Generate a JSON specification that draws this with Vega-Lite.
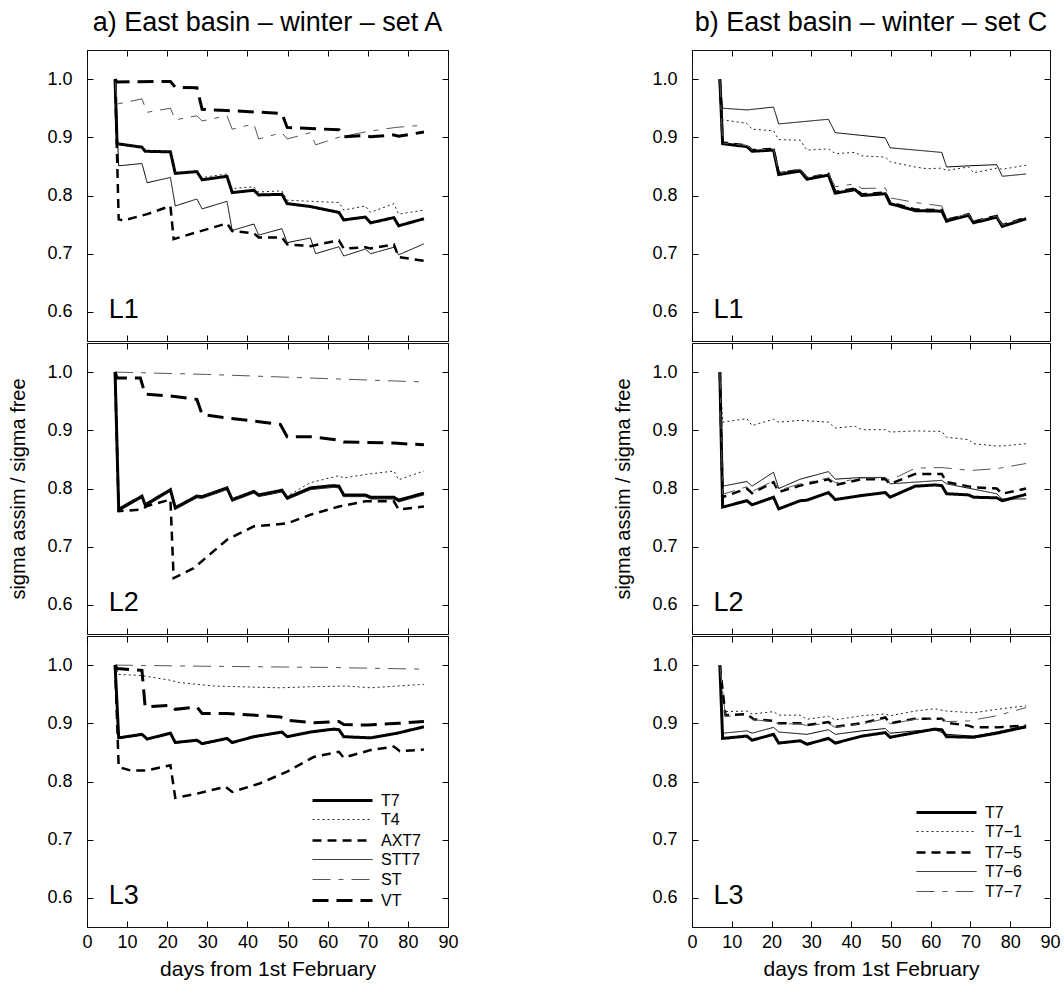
{
"$schema": "https://vega.github.io/schema/vega-lite/v6.json",
"padding": {"left": 8, "top": 8, "right": 5, "bottom": 5},
"background": "white",
"data": {"values": [
{"p":"a1","s":"T7","x":7,"y":1},{"p":"a1","s":"T7","x":7.5,"y":0.889},{"p":"a1","s":"T7","x":13.7,"y":0.883},{"p":"a1","s":"T7","x":14.5,"y":0.876},{"p":"a1","s":"T7","x":20.8,"y":0.875},{"p":"a1","s":"T7","x":22,"y":0.838},{"p":"a1","s":"T7","x":27.4,"y":0.841},{"p":"a1","s":"T7","x":28.7,"y":0.827},{"p":"a1","s":"T7","x":34.9,"y":0.833},{"p":"a1","s":"T7","x":36.2,"y":0.805},{"p":"a1","s":"T7","x":41.6,"y":0.809},{"p":"a1","s":"T7","x":42.8,"y":0.801},{"p":"a1","s":"T7","x":48.6,"y":0.802},{"p":"a1","s":"T7","x":49.9,"y":0.786},{"p":"a1","s":"T7","x":55.7,"y":0.781},{"p":"a1","s":"T7","x":62.8,"y":0.771},{"p":"a1","s":"T7","x":64,"y":0.758},{"p":"a1","s":"T7","x":69.4,"y":0.763},{"p":"a1","s":"T7","x":70.7,"y":0.753},{"p":"a1","s":"T7","x":76.5,"y":0.762},{"p":"a1","s":"T7","x":77.7,"y":0.748},{"p":"a1","s":"T7","x":84,"y":0.76},
{"p":"a1","s":"T4","x":7,"y":1},{"p":"a1","s":"T4","x":7.5,"y":0.89},{"p":"a1","s":"T4","x":13.7,"y":0.884},{"p":"a1","s":"T4","x":14.5,"y":0.877},{"p":"a1","s":"T4","x":20.8,"y":0.876},{"p":"a1","s":"T4","x":22,"y":0.839},{"p":"a1","s":"T4","x":27.4,"y":0.843},{"p":"a1","s":"T4","x":28.7,"y":0.831},{"p":"a1","s":"T4","x":34.9,"y":0.837},{"p":"a1","s":"T4","x":36.2,"y":0.812},{"p":"a1","s":"T4","x":41.6,"y":0.815},{"p":"a1","s":"T4","x":42.8,"y":0.806},{"p":"a1","s":"T4","x":48.6,"y":0.808},{"p":"a1","s":"T4","x":49.9,"y":0.792},{"p":"a1","s":"T4","x":55.7,"y":0.79},{"p":"a1","s":"T4","x":62.8,"y":0.788},{"p":"a1","s":"T4","x":64,"y":0.775},{"p":"a1","s":"T4","x":69.4,"y":0.782},{"p":"a1","s":"T4","x":70.7,"y":0.771},{"p":"a1","s":"T4","x":76.5,"y":0.786},{"p":"a1","s":"T4","x":77.7,"y":0.768},{"p":"a1","s":"T4","x":84,"y":0.775},
{"p":"a1","s":"AXT7","x":7,"y":1},{"p":"a1","s":"AXT7","x":7.9,"y":0.759},{"p":"a1","s":"AXT7","x":9,"y":0.757},{"p":"a1","s":"AXT7","x":15,"y":0.768},{"p":"a1","s":"AXT7","x":20.8,"y":0.782},{"p":"a1","s":"AXT7","x":21.6,"y":0.725},{"p":"a1","s":"AXT7","x":27.4,"y":0.737},{"p":"a1","s":"AXT7","x":34.9,"y":0.752},{"p":"a1","s":"AXT7","x":36.2,"y":0.739},{"p":"a1","s":"AXT7","x":41.6,"y":0.735},{"p":"a1","s":"AXT7","x":42.8,"y":0.728},{"p":"a1","s":"AXT7","x":48.6,"y":0.728},{"p":"a1","s":"AXT7","x":49.9,"y":0.716},{"p":"a1","s":"AXT7","x":55.7,"y":0.713},{"p":"a1","s":"AXT7","x":62.8,"y":0.723},{"p":"a1","s":"AXT7","x":64,"y":0.709},{"p":"a1","s":"AXT7","x":69.4,"y":0.711},{"p":"a1","s":"AXT7","x":70.7,"y":0.709},{"p":"a1","s":"AXT7","x":76.5,"y":0.716},{"p":"a1","s":"AXT7","x":77.7,"y":0.694},{"p":"a1","s":"AXT7","x":84,"y":0.688},
{"p":"a1","s":"STT7","x":7,"y":1},{"p":"a1","s":"STT7","x":7.9,"y":0.851},{"p":"a1","s":"STT7","x":13.7,"y":0.855},{"p":"a1","s":"STT7","x":15,"y":0.822},{"p":"a1","s":"STT7","x":20.8,"y":0.831},{"p":"a1","s":"STT7","x":22,"y":0.782},{"p":"a1","s":"STT7","x":27.4,"y":0.794},{"p":"a1","s":"STT7","x":28.7,"y":0.777},{"p":"a1","s":"STT7","x":34.9,"y":0.79},{"p":"a1","s":"STT7","x":36.2,"y":0.74},{"p":"a1","s":"STT7","x":41.6,"y":0.751},{"p":"a1","s":"STT7","x":42.8,"y":0.732},{"p":"a1","s":"STT7","x":48.6,"y":0.743},{"p":"a1","s":"STT7","x":49.9,"y":0.719},{"p":"a1","s":"STT7","x":55.7,"y":0.727},{"p":"a1","s":"STT7","x":57,"y":0.7},{"p":"a1","s":"STT7","x":62.8,"y":0.712},{"p":"a1","s":"STT7","x":64,"y":0.696},{"p":"a1","s":"STT7","x":69.4,"y":0.708},{"p":"a1","s":"STT7","x":70.7,"y":0.7},{"p":"a1","s":"STT7","x":76.5,"y":0.711},{"p":"a1","s":"STT7","x":77.7,"y":0.698},{"p":"a1","s":"STT7","x":84,"y":0.717},
{"p":"a1","s":"ST","x":7,"y":1},{"p":"a1","s":"ST","x":7.5,"y":0.957},{"p":"a1","s":"ST","x":13.7,"y":0.966},{"p":"a1","s":"ST","x":15,"y":0.943},{"p":"a1","s":"ST","x":20.8,"y":0.95},{"p":"a1","s":"ST","x":22,"y":0.93},{"p":"a1","s":"ST","x":27.4,"y":0.937},{"p":"a1","s":"ST","x":28.7,"y":0.928},{"p":"a1","s":"ST","x":34.9,"y":0.937},{"p":"a1","s":"ST","x":36.2,"y":0.914},{"p":"a1","s":"ST","x":41.6,"y":0.923},{"p":"a1","s":"ST","x":42.8,"y":0.897},{"p":"a1","s":"ST","x":48.6,"y":0.908},{"p":"a1","s":"ST","x":49.9,"y":0.897},{"p":"a1","s":"ST","x":55.7,"y":0.908},{"p":"a1","s":"ST","x":57,"y":0.887},{"p":"a1","s":"ST","x":62.8,"y":0.9},{"p":"a1","s":"ST","x":70,"y":0.91},{"p":"a1","s":"ST","x":77,"y":0.917},{"p":"a1","s":"ST","x":84,"y":0.921},
{"p":"a1","s":"VT","x":7,"y":1},{"p":"a1","s":"VT","x":7.5,"y":0.995},{"p":"a1","s":"VT","x":20.8,"y":0.996},{"p":"a1","s":"VT","x":22,"y":0.986},{"p":"a1","s":"VT","x":27.4,"y":0.985},{"p":"a1","s":"VT","x":28.7,"y":0.948},{"p":"a1","s":"VT","x":34.9,"y":0.946},{"p":"a1","s":"VT","x":48.6,"y":0.941},{"p":"a1","s":"VT","x":49.9,"y":0.917},{"p":"a1","s":"VT","x":55.7,"y":0.915},{"p":"a1","s":"VT","x":62.8,"y":0.913},{"p":"a1","s":"VT","x":64,"y":0.901},{"p":"a1","s":"VT","x":69.4,"y":0.903},{"p":"a1","s":"VT","x":70.7,"y":0.901},{"p":"a1","s":"VT","x":76.5,"y":0.904},{"p":"a1","s":"VT","x":77.7,"y":0.902},{"p":"a1","s":"VT","x":84,"y":0.909},

{"p":"a2","s":"T7","x":7,"y":1},{"p":"a2","s":"T7","x":7.9,"y":0.764},{"p":"a2","s":"T7","x":13.7,"y":0.787},{"p":"a2","s":"T7","x":14.5,"y":0.772},{"p":"a2","s":"T7","x":20.8,"y":0.798},{"p":"a2","s":"T7","x":22,"y":0.767},{"p":"a2","s":"T7","x":27.4,"y":0.787},{"p":"a2","s":"T7","x":28.7,"y":0.786},{"p":"a2","s":"T7","x":34.9,"y":0.801},{"p":"a2","s":"T7","x":36.2,"y":0.781},{"p":"a2","s":"T7","x":41.6,"y":0.795},{"p":"a2","s":"T7","x":42.8,"y":0.789},{"p":"a2","s":"T7","x":48.6,"y":0.797},{"p":"a2","s":"T7","x":49.9,"y":0.784},{"p":"a2","s":"T7","x":55.7,"y":0.801},{"p":"a2","s":"T7","x":61.5,"y":0.805},{"p":"a2","s":"T7","x":62.8,"y":0.804},{"p":"a2","s":"T7","x":64,"y":0.789},{"p":"a2","s":"T7","x":69.4,"y":0.789},{"p":"a2","s":"T7","x":70.7,"y":0.785},{"p":"a2","s":"T7","x":76.5,"y":0.785},{"p":"a2","s":"T7","x":77.7,"y":0.78},{"p":"a2","s":"T7","x":84,"y":0.792},
{"p":"a2","s":"T4","x":7,"y":1},{"p":"a2","s":"T4","x":7.9,"y":0.765},{"p":"a2","s":"T4","x":13.7,"y":0.788},{"p":"a2","s":"T4","x":14.5,"y":0.773},{"p":"a2","s":"T4","x":20.8,"y":0.799},{"p":"a2","s":"T4","x":22,"y":0.768},{"p":"a2","s":"T4","x":27.4,"y":0.788},{"p":"a2","s":"T4","x":28.7,"y":0.787},{"p":"a2","s":"T4","x":34.9,"y":0.802},{"p":"a2","s":"T4","x":36.2,"y":0.782},{"p":"a2","s":"T4","x":41.6,"y":0.796},{"p":"a2","s":"T4","x":42.8,"y":0.79},{"p":"a2","s":"T4","x":48.6,"y":0.799},{"p":"a2","s":"T4","x":49.9,"y":0.787},{"p":"a2","s":"T4","x":55.7,"y":0.81},{"p":"a2","s":"T4","x":62.8,"y":0.822},{"p":"a2","s":"T4","x":64,"y":0.818},{"p":"a2","s":"T4","x":69.4,"y":0.824},{"p":"a2","s":"T4","x":76.5,"y":0.83},{"p":"a2","s":"T4","x":77.7,"y":0.815},{"p":"a2","s":"T4","x":84,"y":0.83},
{"p":"a2","s":"AXT7","x":7,"y":1},{"p":"a2","s":"AXT7","x":7.9,"y":0.761},{"p":"a2","s":"AXT7","x":13.7,"y":0.764},{"p":"a2","s":"AXT7","x":15,"y":0.77},{"p":"a2","s":"AXT7","x":20.8,"y":0.781},{"p":"a2","s":"AXT7","x":21.6,"y":0.646},{"p":"a2","s":"AXT7","x":26.6,"y":0.663},{"p":"a2","s":"AXT7","x":34.9,"y":0.712},{"p":"a2","s":"AXT7","x":41.6,"y":0.735},{"p":"a2","s":"AXT7","x":49.9,"y":0.74},{"p":"a2","s":"AXT7","x":55.7,"y":0.755},{"p":"a2","s":"AXT7","x":62.8,"y":0.769},{"p":"a2","s":"AXT7","x":69.4,"y":0.778},{"p":"a2","s":"AXT7","x":76.5,"y":0.778},{"p":"a2","s":"AXT7","x":77.7,"y":0.764},{"p":"a2","s":"AXT7","x":84,"y":0.769},
{"p":"a2","s":"STT7","x":7,"y":1},{"p":"a2","s":"STT7","x":7.9,"y":0.761},{"p":"a2","s":"STT7","x":13.7,"y":0.784},{"p":"a2","s":"STT7","x":14.5,"y":0.769},{"p":"a2","s":"STT7","x":20.8,"y":0.795},{"p":"a2","s":"STT7","x":22,"y":0.764},{"p":"a2","s":"STT7","x":27.4,"y":0.784},{"p":"a2","s":"STT7","x":28.7,"y":0.783},{"p":"a2","s":"STT7","x":34.9,"y":0.798},{"p":"a2","s":"STT7","x":36.2,"y":0.778},{"p":"a2","s":"STT7","x":41.6,"y":0.792},{"p":"a2","s":"STT7","x":42.8,"y":0.786},{"p":"a2","s":"STT7","x":48.6,"y":0.794},{"p":"a2","s":"STT7","x":49.9,"y":0.781},{"p":"a2","s":"STT7","x":55.7,"y":0.798},{"p":"a2","s":"STT7","x":61.5,"y":0.802},{"p":"a2","s":"STT7","x":62.8,"y":0.801},{"p":"a2","s":"STT7","x":64,"y":0.786},{"p":"a2","s":"STT7","x":69.4,"y":0.786},{"p":"a2","s":"STT7","x":70.7,"y":0.782},{"p":"a2","s":"STT7","x":76.5,"y":0.782},{"p":"a2","s":"STT7","x":77.7,"y":0.777},{"p":"a2","s":"STT7","x":84,"y":0.789},
{"p":"a2","s":"ST","x":7,"y":1},{"p":"a2","s":"ST","x":30,"y":0.996},{"p":"a2","s":"ST","x":55,"y":0.99},{"p":"a2","s":"ST","x":84,"y":0.983},
{"p":"a2","s":"VT","x":7,"y":1},{"p":"a2","s":"VT","x":7.5,"y":0.99},{"p":"a2","s":"VT","x":13.3,"y":0.99},{"p":"a2","s":"VT","x":14.5,"y":0.962},{"p":"a2","s":"VT","x":20.8,"y":0.959},{"p":"a2","s":"VT","x":27.4,"y":0.953},{"p":"a2","s":"VT","x":28.7,"y":0.927},{"p":"a2","s":"VT","x":34.9,"y":0.921},{"p":"a2","s":"VT","x":41.6,"y":0.916},{"p":"a2","s":"VT","x":48.2,"y":0.91},{"p":"a2","s":"VT","x":49.9,"y":0.889},{"p":"a2","s":"VT","x":55.7,"y":0.889},{"p":"a2","s":"VT","x":62.8,"y":0.883},{"p":"a2","s":"VT","x":64,"y":0.88},{"p":"a2","s":"VT","x":76.5,"y":0.878},{"p":"a2","s":"VT","x":84,"y":0.875},

{"p":"a3","s":"T7","x":7,"y":1},{"p":"a3","s":"T7","x":7.9,"y":0.875},{"p":"a3","s":"T7","x":13.7,"y":0.881},{"p":"a3","s":"T7","x":15,"y":0.873},{"p":"a3","s":"T7","x":20.8,"y":0.883},{"p":"a3","s":"T7","x":22,"y":0.867},{"p":"a3","s":"T7","x":27.4,"y":0.871},{"p":"a3","s":"T7","x":28.7,"y":0.865},{"p":"a3","s":"T7","x":34.9,"y":0.874},{"p":"a3","s":"T7","x":36.2,"y":0.867},{"p":"a3","s":"T7","x":41.6,"y":0.877},{"p":"a3","s":"T7","x":48.6,"y":0.885},{"p":"a3","s":"T7","x":49.9,"y":0.877},{"p":"a3","s":"T7","x":55.7,"y":0.885},{"p":"a3","s":"T7","x":61.5,"y":0.89},{"p":"a3","s":"T7","x":62.8,"y":0.889},{"p":"a3","s":"T7","x":64,"y":0.877},{"p":"a3","s":"T7","x":70.7,"y":0.875},{"p":"a3","s":"T7","x":77.3,"y":0.883},{"p":"a3","s":"T7","x":84,"y":0.894},
{"p":"a3","s":"T4","x":7,"y":1},{"p":"a3","s":"T4","x":7.9,"y":0.984},{"p":"a3","s":"T4","x":13.7,"y":0.982},{"p":"a3","s":"T4","x":20.8,"y":0.974},{"p":"a3","s":"T4","x":23,"y":0.97},{"p":"a3","s":"T4","x":31.6,"y":0.964},{"p":"a3","s":"T4","x":48,"y":0.961},{"p":"a3","s":"T4","x":56.5,"y":0.963},{"p":"a3","s":"T4","x":64.8,"y":0.964},{"p":"a3","s":"T4","x":70.7,"y":0.961},{"p":"a3","s":"T4","x":84,"y":0.967},
{"p":"a3","s":"AXT7","x":7,"y":1},{"p":"a3","s":"AXT7","x":7.9,"y":0.825},{"p":"a3","s":"AXT7","x":10.8,"y":0.819},{"p":"a3","s":"AXT7","x":15,"y":0.819},{"p":"a3","s":"AXT7","x":20.8,"y":0.828},{"p":"a3","s":"AXT7","x":22,"y":0.772},{"p":"a3","s":"AXT7","x":27.4,"y":0.779},{"p":"a3","s":"AXT7","x":34.5,"y":0.791},{"p":"a3","s":"AXT7","x":36.2,"y":0.782},{"p":"a3","s":"AXT7","x":43.2,"y":0.797},{"p":"a3","s":"AXT7","x":49.9,"y":0.817},{"p":"a3","s":"AXT7","x":56.5,"y":0.842},{"p":"a3","s":"AXT7","x":62.8,"y":0.851},{"p":"a3","s":"AXT7","x":64,"y":0.841},{"p":"a3","s":"AXT7","x":70.7,"y":0.854},{"p":"a3","s":"AXT7","x":76.5,"y":0.86},{"p":"a3","s":"AXT7","x":78,"y":0.852},{"p":"a3","s":"AXT7","x":84,"y":0.855},
{"p":"a3","s":"STT7","x":7,"y":1},{"p":"a3","s":"STT7","x":7.9,"y":0.874},{"p":"a3","s":"STT7","x":13.7,"y":0.88},{"p":"a3","s":"STT7","x":15,"y":0.872},{"p":"a3","s":"STT7","x":20.8,"y":0.882},{"p":"a3","s":"STT7","x":22,"y":0.866},{"p":"a3","s":"STT7","x":27.4,"y":0.87},{"p":"a3","s":"STT7","x":28.7,"y":0.864},{"p":"a3","s":"STT7","x":34.9,"y":0.873},{"p":"a3","s":"STT7","x":36.2,"y":0.866},{"p":"a3","s":"STT7","x":41.6,"y":0.876},{"p":"a3","s":"STT7","x":48.6,"y":0.884},{"p":"a3","s":"STT7","x":49.9,"y":0.876},{"p":"a3","s":"STT7","x":55.7,"y":0.884},{"p":"a3","s":"STT7","x":61.5,"y":0.889},{"p":"a3","s":"STT7","x":62.8,"y":0.888},{"p":"a3","s":"STT7","x":64,"y":0.876},{"p":"a3","s":"STT7","x":70.7,"y":0.874},{"p":"a3","s":"STT7","x":77.3,"y":0.882},{"p":"a3","s":"STT7","x":84,"y":0.893},
{"p":"a3","s":"ST","x":7,"y":1},{"p":"a3","s":"ST","x":30,"y":0.998},{"p":"a3","s":"ST","x":60,"y":0.996},{"p":"a3","s":"ST","x":84,"y":0.993},
{"p":"a3","s":"VT","x":7,"y":1},{"p":"a3","s":"VT","x":7.5,"y":0.994},{"p":"a3","s":"VT","x":13.7,"y":0.991},{"p":"a3","s":"VT","x":14.5,"y":0.928},{"p":"a3","s":"VT","x":20.8,"y":0.931},{"p":"a3","s":"VT","x":22,"y":0.924},{"p":"a3","s":"VT","x":27.4,"y":0.928},{"p":"a3","s":"VT","x":28.7,"y":0.917},{"p":"a3","s":"VT","x":34.9,"y":0.917},{"p":"a3","s":"VT","x":48.2,"y":0.911},{"p":"a3","s":"VT","x":49.9,"y":0.905},{"p":"a3","s":"VT","x":56.5,"y":0.901},{"p":"a3","s":"VT","x":62.8,"y":0.903},{"p":"a3","s":"VT","x":64,"y":0.898},{"p":"a3","s":"VT","x":70,"y":0.897},{"p":"a3","s":"VT","x":77.7,"y":0.9},{"p":"a3","s":"VT","x":84,"y":0.903},

{"p":"b1","s":"T7","x":7,"y":1},{"p":"b1","s":"T7","x":7.7,"y":0.889},{"p":"b1","s":"T7","x":13.8,"y":0.884},{"p":"b1","s":"T7","x":15.1,"y":0.876},{"p":"b1","s":"T7","x":20.5,"y":0.878},{"p":"b1","s":"T7","x":21.8,"y":0.836},{"p":"b1","s":"T7","x":27.2,"y":0.842},{"p":"b1","s":"T7","x":28.9,"y":0.828},{"p":"b1","s":"T7","x":34.3,"y":0.835},{"p":"b1","s":"T7","x":36,"y":0.804},{"p":"b1","s":"T7","x":41,"y":0.81},{"p":"b1","s":"T7","x":42.7,"y":0.8},{"p":"b1","s":"T7","x":48.6,"y":0.803},{"p":"b1","s":"T7","x":49.8,"y":0.786},{"p":"b1","s":"T7","x":56.1,"y":0.774},{"p":"b1","s":"T7","x":62.8,"y":0.773},{"p":"b1","s":"T7","x":64,"y":0.756},{"p":"b1","s":"T7","x":69.5,"y":0.766},{"p":"b1","s":"T7","x":70.8,"y":0.753},{"p":"b1","s":"T7","x":76.6,"y":0.763},{"p":"b1","s":"T7","x":78,"y":0.747},{"p":"b1","s":"T7","x":84,"y":0.76},
{"p":"b1","s":"T7−1","x":7,"y":1},{"p":"b1","s":"T7−1","x":7.7,"y":0.93},{"p":"b1","s":"T7−1","x":13.8,"y":0.924},{"p":"b1","s":"T7−1","x":15.1,"y":0.914},{"p":"b1","s":"T7−1","x":20.5,"y":0.911},{"p":"b1","s":"T7−1","x":21.8,"y":0.896},{"p":"b1","s":"T7−1","x":27.2,"y":0.895},{"p":"b1","s":"T7−1","x":28.9,"y":0.878},{"p":"b1","s":"T7−1","x":34.3,"y":0.88},{"p":"b1","s":"T7−1","x":36,"y":0.872},{"p":"b1","s":"T7−1","x":41,"y":0.874},{"p":"b1","s":"T7−1","x":42.7,"y":0.868},{"p":"b1","s":"T7−1","x":48.6,"y":0.866},{"p":"b1","s":"T7−1","x":49.8,"y":0.858},{"p":"b1","s":"T7−1","x":56.1,"y":0.849},{"p":"b1","s":"T7−1","x":59,"y":0.846},{"p":"b1","s":"T7−1","x":62.8,"y":0.847},{"p":"b1","s":"T7−1","x":64,"y":0.843},{"p":"b1","s":"T7−1","x":69.5,"y":0.849},{"p":"b1","s":"T7−1","x":70.8,"y":0.839},{"p":"b1","s":"T7−1","x":76.6,"y":0.847},{"p":"b1","s":"T7−1","x":78,"y":0.845},{"p":"b1","s":"T7−1","x":84,"y":0.852},
{"p":"b1","s":"T7−5","x":7,"y":1},{"p":"b1","s":"T7−5","x":7.7,"y":0.891},{"p":"b1","s":"T7−5","x":13.8,"y":0.886},{"p":"b1","s":"T7−5","x":15.1,"y":0.878},{"p":"b1","s":"T7−5","x":20.5,"y":0.88},{"p":"b1","s":"T7−5","x":21.8,"y":0.838},{"p":"b1","s":"T7−5","x":27.2,"y":0.844},{"p":"b1","s":"T7−5","x":28.9,"y":0.83},{"p":"b1","s":"T7−5","x":34.3,"y":0.837},{"p":"b1","s":"T7−5","x":36,"y":0.806},{"p":"b1","s":"T7−5","x":41,"y":0.812},{"p":"b1","s":"T7−5","x":42.7,"y":0.802},{"p":"b1","s":"T7−5","x":48.6,"y":0.805},{"p":"b1","s":"T7−5","x":49.8,"y":0.788},{"p":"b1","s":"T7−5","x":56.1,"y":0.776},{"p":"b1","s":"T7−5","x":62.8,"y":0.775},{"p":"b1","s":"T7−5","x":64,"y":0.758},{"p":"b1","s":"T7−5","x":69.5,"y":0.768},{"p":"b1","s":"T7−5","x":70.8,"y":0.755},{"p":"b1","s":"T7−5","x":76.6,"y":0.765},{"p":"b1","s":"T7−5","x":78,"y":0.749},{"p":"b1","s":"T7−5","x":84,"y":0.762},
{"p":"b1","s":"T7−6","x":7,"y":1},{"p":"b1","s":"T7−6","x":7.7,"y":0.95},{"p":"b1","s":"T7−6","x":13.8,"y":0.947},{"p":"b1","s":"T7−6","x":20.5,"y":0.952},{"p":"b1","s":"T7−6","x":21.8,"y":0.923},{"p":"b1","s":"T7−6","x":34.3,"y":0.931},{"p":"b1","s":"T7−6","x":36,"y":0.908},{"p":"b1","s":"T7−6","x":48.6,"y":0.899},{"p":"b1","s":"T7−6","x":49.8,"y":0.882},{"p":"b1","s":"T7−6","x":62.8,"y":0.874},{"p":"b1","s":"T7−6","x":64,"y":0.849},{"p":"b1","s":"T7−6","x":69.5,"y":0.851},{"p":"b1","s":"T7−6","x":76.6,"y":0.853},{"p":"b1","s":"T7−6","x":78,"y":0.833},{"p":"b1","s":"T7−6","x":84,"y":0.837},
{"p":"b1","s":"T7−7","x":7,"y":1},{"p":"b1","s":"T7−7","x":7.7,"y":0.89},{"p":"b1","s":"T7−7","x":13.8,"y":0.886},{"p":"b1","s":"T7−7","x":15.1,"y":0.878},{"p":"b1","s":"T7−7","x":20.5,"y":0.88},{"p":"b1","s":"T7−7","x":21.8,"y":0.84},{"p":"b1","s":"T7−7","x":27.2,"y":0.845},{"p":"b1","s":"T7−7","x":28.9,"y":0.832},{"p":"b1","s":"T7−7","x":34.3,"y":0.838},{"p":"b1","s":"T7−7","x":36,"y":0.815},{"p":"b1","s":"T7−7","x":41,"y":0.82},{"p":"b1","s":"T7−7","x":42.7,"y":0.812},{"p":"b1","s":"T7−7","x":48.6,"y":0.813},{"p":"b1","s":"T7−7","x":49.8,"y":0.796},{"p":"b1","s":"T7−7","x":56.1,"y":0.788},{"p":"b1","s":"T7−7","x":62.8,"y":0.782},{"p":"b1","s":"T7−7","x":64,"y":0.76},{"p":"b1","s":"T7−7","x":69.5,"y":0.768},{"p":"b1","s":"T7−7","x":70.8,"y":0.755},{"p":"b1","s":"T7−7","x":76.6,"y":0.765},{"p":"b1","s":"T7−7","x":78,"y":0.749},{"p":"b1","s":"T7−7","x":84,"y":0.762},

{"p":"b2","s":"T7","x":7,"y":1},{"p":"b2","s":"T7","x":7.7,"y":0.768},{"p":"b2","s":"T7","x":13.8,"y":0.779},{"p":"b2","s":"T7","x":15.1,"y":0.772},{"p":"b2","s":"T7","x":20.5,"y":0.785},{"p":"b2","s":"T7","x":21.8,"y":0.765},{"p":"b2","s":"T7","x":27.2,"y":0.779},{"p":"b2","s":"T7","x":28.9,"y":0.78},{"p":"b2","s":"T7","x":34.3,"y":0.793},{"p":"b2","s":"T7","x":36,"y":0.781},{"p":"b2","s":"T7","x":42.7,"y":0.788},{"p":"b2","s":"T7","x":48.6,"y":0.793},{"p":"b2","s":"T7","x":49.8,"y":0.785},{"p":"b2","s":"T7","x":56.1,"y":0.804},{"p":"b2","s":"T7","x":61,"y":0.806},{"p":"b2","s":"T7","x":62.8,"y":0.805},{"p":"b2","s":"T7","x":64,"y":0.791},{"p":"b2","s":"T7","x":69.5,"y":0.789},{"p":"b2","s":"T7","x":70.8,"y":0.785},{"p":"b2","s":"T7","x":76.6,"y":0.784},{"p":"b2","s":"T7","x":78,"y":0.779},{"p":"b2","s":"T7","x":84,"y":0.79},
{"p":"b2","s":"T7−1","x":7,"y":1},{"p":"b2","s":"T7−1","x":7.7,"y":0.914},{"p":"b2","s":"T7−1","x":13.8,"y":0.92},{"p":"b2","s":"T7−1","x":15.1,"y":0.908},{"p":"b2","s":"T7−1","x":20.5,"y":0.919},{"p":"b2","s":"T7−1","x":21.8,"y":0.914},{"p":"b2","s":"T7−1","x":27.2,"y":0.917},{"p":"b2","s":"T7−1","x":34.3,"y":0.914},{"p":"b2","s":"T7−1","x":36,"y":0.904},{"p":"b2","s":"T7−1","x":41,"y":0.907},{"p":"b2","s":"T7−1","x":42.7,"y":0.901},{"p":"b2","s":"T7−1","x":48.6,"y":0.901},{"p":"b2","s":"T7−1","x":49.8,"y":0.897},{"p":"b2","s":"T7−1","x":56.1,"y":0.899},{"p":"b2","s":"T7−1","x":62.8,"y":0.898},{"p":"b2","s":"T7−1","x":64,"y":0.888},{"p":"b2","s":"T7−1","x":69.5,"y":0.884},{"p":"b2","s":"T7−1","x":70.8,"y":0.877},{"p":"b2","s":"T7−1","x":76.6,"y":0.873},{"p":"b2","s":"T7−1","x":78,"y":0.873},{"p":"b2","s":"T7−1","x":84,"y":0.877},
{"p":"b2","s":"T7−5","x":7,"y":1},{"p":"b2","s":"T7−5","x":7.7,"y":0.785},{"p":"b2","s":"T7−5","x":13.8,"y":0.8},{"p":"b2","s":"T7−5","x":15.1,"y":0.792},{"p":"b2","s":"T7−5","x":20.5,"y":0.811},{"p":"b2","s":"T7−5","x":21.8,"y":0.794},{"p":"b2","s":"T7−5","x":27.2,"y":0.805},{"p":"b2","s":"T7−5","x":34.3,"y":0.816},{"p":"b2","s":"T7−5","x":36,"y":0.806},{"p":"b2","s":"T7−5","x":42.7,"y":0.816},{"p":"b2","s":"T7−5","x":48.6,"y":0.816},{"p":"b2","s":"T7−5","x":49.8,"y":0.808},{"p":"b2","s":"T7−5","x":56.1,"y":0.825},{"p":"b2","s":"T7−5","x":62.8,"y":0.825},{"p":"b2","s":"T7−5","x":64,"y":0.811},{"p":"b2","s":"T7−5","x":70.8,"y":0.802},{"p":"b2","s":"T7−5","x":76.6,"y":0.8},{"p":"b2","s":"T7−5","x":78,"y":0.791},{"p":"b2","s":"T7−5","x":84,"y":0.8},
{"p":"b2","s":"T7−6","x":7,"y":1},{"p":"b2","s":"T7−6","x":7.7,"y":0.804},{"p":"b2","s":"T7−6","x":13.8,"y":0.812},{"p":"b2","s":"T7−6","x":15.1,"y":0.804},{"p":"b2","s":"T7−6","x":20.5,"y":0.828},{"p":"b2","s":"T7−6","x":21.8,"y":0.8},{"p":"b2","s":"T7−6","x":27.2,"y":0.816},{"p":"b2","s":"T7−6","x":34.3,"y":0.829},{"p":"b2","s":"T7−6","x":36,"y":0.816},{"p":"b2","s":"T7−6","x":42.7,"y":0.819},{"p":"b2","s":"T7−6","x":48.6,"y":0.819},{"p":"b2","s":"T7−6","x":49.8,"y":0.808},{"p":"b2","s":"T7−6","x":56.1,"y":0.811},{"p":"b2","s":"T7−6","x":62.8,"y":0.814},{"p":"b2","s":"T7−6","x":64,"y":0.808},{"p":"b2","s":"T7−6","x":76.6,"y":0.791},{"p":"b2","s":"T7−6","x":78,"y":0.782},{"p":"b2","s":"T7−6","x":84,"y":0.782},
{"p":"b2","s":"T7−7","x":7,"y":1},{"p":"b2","s":"T7−7","x":7.7,"y":0.79},{"p":"b2","s":"T7−7","x":13.8,"y":0.803},{"p":"b2","s":"T7−7","x":15.1,"y":0.795},{"p":"b2","s":"T7−7","x":20.5,"y":0.813},{"p":"b2","s":"T7−7","x":21.8,"y":0.797},{"p":"b2","s":"T7−7","x":27.2,"y":0.808},{"p":"b2","s":"T7−7","x":34.3,"y":0.818},{"p":"b2","s":"T7−7","x":36,"y":0.81},{"p":"b2","s":"T7−7","x":42.7,"y":0.818},{"p":"b2","s":"T7−7","x":48.6,"y":0.818},{"p":"b2","s":"T7−7","x":49.8,"y":0.814},{"p":"b2","s":"T7−7","x":56.1,"y":0.835},{"p":"b2","s":"T7−7","x":62.8,"y":0.836},{"p":"b2","s":"T7−7","x":70,"y":0.831},{"p":"b2","s":"T7−7","x":76.6,"y":0.834},{"p":"b2","s":"T7−7","x":84,"y":0.843},

{"p":"b3","s":"T7","x":7,"y":1},{"p":"b3","s":"T7","x":7.7,"y":0.874},{"p":"b3","s":"T7","x":13.8,"y":0.878},{"p":"b3","s":"T7","x":15.1,"y":0.871},{"p":"b3","s":"T7","x":20.5,"y":0.881},{"p":"b3","s":"T7","x":21.8,"y":0.866},{"p":"b3","s":"T7","x":27.2,"y":0.87},{"p":"b3","s":"T7","x":28.9,"y":0.864},{"p":"b3","s":"T7","x":34.3,"y":0.874},{"p":"b3","s":"T7","x":36,"y":0.866},{"p":"b3","s":"T7","x":42.7,"y":0.878},{"p":"b3","s":"T7","x":48.6,"y":0.884},{"p":"b3","s":"T7","x":49.8,"y":0.876},{"p":"b3","s":"T7","x":56.1,"y":0.884},{"p":"b3","s":"T7","x":61,"y":0.89},{"p":"b3","s":"T7","x":62.8,"y":0.889},{"p":"b3","s":"T7","x":64,"y":0.877},{"p":"b3","s":"T7","x":70.8,"y":0.876},{"p":"b3","s":"T7","x":76.6,"y":0.883},{"p":"b3","s":"T7","x":84,"y":0.894},
{"p":"b3","s":"T7−1","x":7,"y":1},{"p":"b3","s":"T7−1","x":7.7,"y":0.92},{"p":"b3","s":"T7−1","x":13.8,"y":0.921},{"p":"b3","s":"T7−1","x":15.1,"y":0.916},{"p":"b3","s":"T7−1","x":20.5,"y":0.92},{"p":"b3","s":"T7−1","x":21.8,"y":0.914},{"p":"b3","s":"T7−1","x":27.2,"y":0.914},{"p":"b3","s":"T7−1","x":28.9,"y":0.907},{"p":"b3","s":"T7−1","x":34.3,"y":0.912},{"p":"b3","s":"T7−1","x":36,"y":0.906},{"p":"b3","s":"T7−1","x":42.7,"y":0.913},{"p":"b3","s":"T7−1","x":48.6,"y":0.916},{"p":"b3","s":"T7−1","x":49.8,"y":0.913},{"p":"b3","s":"T7−1","x":56.1,"y":0.921},{"p":"b3","s":"T7−1","x":61,"y":0.925},{"p":"b3","s":"T7−1","x":64,"y":0.921},{"p":"b3","s":"T7−1","x":70.8,"y":0.918},{"p":"b3","s":"T7−1","x":76.6,"y":0.924},{"p":"b3","s":"T7−1","x":84,"y":0.93},
{"p":"b3","s":"T7−5","x":7,"y":1},{"p":"b3","s":"T7−5","x":8.4,"y":0.914},{"p":"b3","s":"T7−5","x":13.8,"y":0.916},{"p":"b3","s":"T7−5","x":15.5,"y":0.907},{"p":"b3","s":"T7−5","x":20.5,"y":0.904},{"p":"b3","s":"T7−5","x":21.8,"y":0.9},{"p":"b3","s":"T7−5","x":27.2,"y":0.9},{"p":"b3","s":"T7−5","x":28.9,"y":0.897},{"p":"b3","s":"T7−5","x":34.3,"y":0.902},{"p":"b3","s":"T7−5","x":36,"y":0.894},{"p":"b3","s":"T7−5","x":42.7,"y":0.9},{"p":"b3","s":"T7−5","x":48.6,"y":0.91},{"p":"b3","s":"T7−5","x":49.8,"y":0.9},{"p":"b3","s":"T7−5","x":56.1,"y":0.908},{"p":"b3","s":"T7−5","x":62.8,"y":0.908},{"p":"b3","s":"T7−5","x":64,"y":0.901},{"p":"b3","s":"T7−5","x":69.5,"y":0.896},{"p":"b3","s":"T7−5","x":70.8,"y":0.893},{"p":"b3","s":"T7−5","x":76.6,"y":0.893},{"p":"b3","s":"T7−5","x":84,"y":0.896},
{"p":"b3","s":"T7−6","x":7,"y":1},{"p":"b3","s":"T7−6","x":7.7,"y":0.883},{"p":"b3","s":"T7−6","x":13.8,"y":0.887},{"p":"b3","s":"T7−6","x":15.1,"y":0.883},{"p":"b3","s":"T7−6","x":20.5,"y":0.893},{"p":"b3","s":"T7−6","x":21.8,"y":0.885},{"p":"b3","s":"T7−6","x":28.9,"y":0.881},{"p":"b3","s":"T7−6","x":34.3,"y":0.889},{"p":"b3","s":"T7−6","x":36,"y":0.881},{"p":"b3","s":"T7−6","x":42.7,"y":0.887},{"p":"b3","s":"T7−6","x":48.6,"y":0.891},{"p":"b3","s":"T7−6","x":49.8,"y":0.883},{"p":"b3","s":"T7−6","x":56.1,"y":0.887},{"p":"b3","s":"T7−6","x":61,"y":0.889},{"p":"b3","s":"T7−6","x":64,"y":0.881},{"p":"b3","s":"T7−6","x":70.8,"y":0.878},{"p":"b3","s":"T7−6","x":76.6,"y":0.885},{"p":"b3","s":"T7−6","x":84,"y":0.896},
{"p":"b3","s":"T7−7","x":7,"y":1},{"p":"b3","s":"T7−7","x":8.4,"y":0.912},{"p":"b3","s":"T7−7","x":13.8,"y":0.914},{"p":"b3","s":"T7−7","x":15.5,"y":0.906},{"p":"b3","s":"T7−7","x":20.5,"y":0.903},{"p":"b3","s":"T7−7","x":21.8,"y":0.899},{"p":"b3","s":"T7−7","x":27.2,"y":0.899},{"p":"b3","s":"T7−7","x":28.9,"y":0.896},{"p":"b3","s":"T7−7","x":34.3,"y":0.9},{"p":"b3","s":"T7−7","x":36,"y":0.893},{"p":"b3","s":"T7−7","x":42.7,"y":0.899},{"p":"b3","s":"T7−7","x":48.6,"y":0.908},{"p":"b3","s":"T7−7","x":49.8,"y":0.899},{"p":"b3","s":"T7−7","x":56.1,"y":0.907},{"p":"b3","s":"T7−7","x":62.8,"y":0.907},{"p":"b3","s":"T7−7","x":64,"y":0.903},{"p":"b3","s":"T7−7","x":69.5,"y":0.904},{"p":"b3","s":"T7−7","x":76.6,"y":0.913},{"p":"b3","s":"T7−7","x":84,"y":0.927}
]},
"config": {
  "font": "Liberation Sans",
  "view": {"stroke": "#111", "strokeWidth": 1},
  "axis": {"grid": false, "domain": false, "tickColor": "#000", "tickSize": -6, "tickWidth": 1, "labelFontSize": 18, "labelColor": "#000", "labelFont": "Liberation Sans", "labelFlush": false, "labelOverlap": false, "titleFontSize": 20, "titleFontWeight": "normal", "titleColor": "#000", "titleFont": "Liberation Sans", "minExtent": 0},
  "axisX": {"labelPadding": 12, "titlePadding": 7},
  "axisY": {"labelPadding": 21, "titlePadding": 18},
  "legend": {"labelFontSize": 16, "labelFont": "Liberation Sans", "labelColor": "#000", "labelAlign": "left", "padding": 0, "rowPadding": 0, "columns": 1, "gridAlign": "all", "symbolType": "M-3,0H3", "symbolSize": 400, "labelOffset": 27, "orient": "none", "title": null},
  "title": {"font": "Liberation Sans", "fontSize": 27, "fontWeight": "normal", "color": "#000", "anchor": "middle", "frame": "group", "baseline": "alphabetic", "offset": 13}
},
"spacing": 154,
"resolve": {"scale": {"x": "independent", "y": "independent", "color": "independent", "strokeDash": "independent", "strokeWidth": "independent"}, "legend": {"color": "independent", "strokeDash": "independent", "strokeWidth": "independent"}},
"hconcat": [
 {"spacing": 0,
  "resolve": {"scale": {"x": "independent", "y": "independent", "color": "independent", "strokeDash": "independent", "strokeWidth": "independent"}, "legend": {"color": "independent", "strokeDash": "independent", "strokeWidth": "independent"}},
  "vconcat": [
   {"width": 361, "height": 291, "title": "a)  East basin – winter – set A",
    "resolve": {"axis": {"x": "independent", "y": "independent"}},
    "layer": [
     {"transform": [{"filter": "datum.p === 'a1'"}], "mark": {"type": "line", "strokeCap": "butt"},
      "encoding": {
       "x": {"field": "x", "type": "quantitative", "scale": {"domain": [0, 90], "nice": false, "zero": false}, "axis": {"orient": "bottom", "values": [0,10,20,30,40,50,60,70,80,90], "labels": false, "title": null}},
       "y": {"field": "y", "type": "quantitative", "scale": {"domain": [0.55, 1.05], "nice": false, "zero": false}, "axis": {"orient": "left", "values": [0.6,0.7,0.8,0.9,1.0], "format": ".1f", "title": null}},
       "color": {"field": "s", "type": "nominal", "scale": {"domain": ["T7","T4","AXT7","STT7","ST","VT"], "range": ["#000","#222","#000","#000","#555","#000"]}, "legend": null},
       "strokeDash": {"field": "s", "type": "nominal", "scale": {"domain": ["T7","T4","AXT7","STT7","ST","VT"], "range": [[1,0],[2,3],[9,6],[1,0],[18,8,5,8],[16,8]]}, "legend": null},
       "strokeWidth": {"field": "s", "type": "nominal", "scale": {"type": "ordinal", "domain": ["T7","T4","AXT7","STT7","ST","VT"], "range": [3,1,2.5,1,1,3]}, "legend": null}
      }},
     {"data": {"values": [{}]}, "mark": {"type": "text", "text": "L1", "fontSize": 27, "align": "left", "baseline": "alphabetic", "color": "#000"},
      "encoding": {
       "x": {"datum": 5.4, "type": "quantitative", "axis": {"orient": "top", "values": [0,10,20,30,40,50,60,70,80,90], "labels": false, "title": null}},
       "y": {"datum": 0.589, "type": "quantitative", "axis": {"orient": "right", "values": [0.6,0.7,0.8,0.9,1.0], "labels": false, "title": null}}
      }}
    ]},
   {"width": 361, "height": 291,
    "resolve": {"axis": {"x": "independent", "y": "independent"}},
    "layer": [
     {"transform": [{"filter": "datum.p === 'a2'"}], "mark": {"type": "line", "strokeCap": "butt"},
      "encoding": {
       "x": {"field": "x", "type": "quantitative", "scale": {"domain": [0, 90], "nice": false, "zero": false}, "axis": {"orient": "bottom", "values": [0,10,20,30,40,50,60,70,80,90], "labels": false, "title": null}},
       "y": {"field": "y", "type": "quantitative", "scale": {"domain": [0.55, 1.05], "nice": false, "zero": false}, "axis": {"orient": "left", "values": [0.6,0.7,0.8,0.9,1.0], "format": ".1f", "title": "sigma assim / sigma free"}},
       "color": {"field": "s", "type": "nominal", "scale": {"domain": ["T7","T4","AXT7","STT7","ST","VT"], "range": ["#000","#222","#000","#000","#555","#000"]}, "legend": null},
       "strokeDash": {"field": "s", "type": "nominal", "scale": {"domain": ["T7","T4","AXT7","STT7","ST","VT"], "range": [[1,0],[2,3],[9,6],[1,0],[18,8,5,8],[16,8]]}, "legend": null},
       "strokeWidth": {"field": "s", "type": "nominal", "scale": {"type": "ordinal", "domain": ["T7","T4","AXT7","STT7","ST","VT"], "range": [3,1,2.5,1,1,3]}, "legend": null}
      }},
     {"data": {"values": [{}]}, "mark": {"type": "text", "text": "L2", "fontSize": 27, "align": "left", "baseline": "alphabetic", "color": "#000"},
      "encoding": {
       "x": {"datum": 5.4, "type": "quantitative", "axis": {"orient": "top", "values": [0,10,20,30,40,50,60,70,80,90], "labels": false, "title": null}},
       "y": {"datum": 0.589, "type": "quantitative", "axis": {"orient": "right", "values": [0.6,0.7,0.8,0.9,1.0], "labels": false, "title": null}}
      }}
    ]},
   {"width": 361, "height": 291,
    "resolve": {"axis": {"x": "independent", "y": "independent"}},
    "layer": [
     {"transform": [{"filter": "datum.p === 'a3'"}], "mark": {"type": "line", "strokeCap": "butt"},
      "encoding": {
       "x": {"field": "x", "type": "quantitative", "scale": {"domain": [0, 90], "nice": false, "zero": false}, "axis": {"orient": "bottom", "values": [0,10,20,30,40,50,60,70,80,90], "title": "days from 1st February", "titleFontSize": 21}},
       "y": {"field": "y", "type": "quantitative", "scale": {"domain": [0.55, 1.05], "nice": false, "zero": false}, "axis": {"orient": "left", "values": [0.6,0.7,0.8,0.9,1.0], "format": ".1f", "title": null}},
       "color": {"field": "s", "type": "nominal", "scale": {"domain": ["T7","T4","AXT7","STT7","ST","VT"], "range": ["#000","#222","#000","#000","#555","#000"]}},
       "strokeDash": {"field": "s", "type": "nominal", "scale": {"domain": ["T7","T4","AXT7","STT7","ST","VT"], "range": [[1,0],[2,3],[9,6],[1,0],[18,8,5,8],[16,8]]}, "legend": {"orient": "none", "legendX": 244, "legendY": 153, "title": null, "labelAlign": "left", "labelFontSize": 16, "columns": 1, "gridAlign": "all"}},
       "strokeWidth": {"field": "s", "type": "nominal", "scale": {"type": "ordinal", "domain": ["T7","T4","AXT7","STT7","ST","VT"], "range": [3,1,2.5,1,1,3]}}
      }},
     {"data": {"values": [{}]}, "mark": {"type": "text", "text": "L3", "fontSize": 27, "align": "left", "baseline": "alphabetic", "color": "#000"},
      "encoding": {
       "x": {"datum": 5.4, "type": "quantitative", "axis": {"orient": "top", "values": [0,10,20,30,40,50,60,70,80,90], "labels": false, "title": null}},
       "y": {"datum": 0.589, "type": "quantitative", "axis": {"orient": "right", "values": [0.6,0.7,0.8,0.9,1.0], "labels": false, "title": null}}
      }}
    ]}
  ]},
 {"spacing": 0,
  "resolve": {"scale": {"x": "independent", "y": "independent", "color": "independent", "strokeDash": "independent", "strokeWidth": "independent"}, "legend": {"color": "independent", "strokeDash": "independent", "strokeWidth": "independent"}},
  "vconcat": [
   {"width": 358, "height": 291, "title": "b)  East basin – winter – set C",
    "resolve": {"axis": {"x": "independent", "y": "independent"}},
    "layer": [
     {"transform": [{"filter": "datum.p === 'b1'"}], "mark": {"type": "line", "strokeCap": "butt"},
      "encoding": {
       "x": {"field": "x", "type": "quantitative", "scale": {"domain": [0, 90], "nice": false, "zero": false}, "axis": {"orient": "bottom", "values": [0,10,20,30,40,50,60,70,80,90], "labels": false, "title": null}},
       "y": {"field": "y", "type": "quantitative", "scale": {"domain": [0.55, 1.05], "nice": false, "zero": false}, "axis": {"orient": "left", "values": [0.6,0.7,0.8,0.9,1.0], "format": ".1f", "title": null}},
       "color": {"field": "s", "type": "nominal", "scale": {"domain": ["T7","T7−1","T7−5","T7−6","T7−7"], "range": ["#000","#222","#000","#000","#555"]}, "legend": null},
       "strokeDash": {"field": "s", "type": "nominal", "scale": {"domain": ["T7","T7−1","T7−5","T7−6","T7−7"], "range": [[1,0],[2,3],[9,6],[1,0],[18,8,5,8]]}, "legend": null},
       "strokeWidth": {"field": "s", "type": "nominal", "scale": {"type": "ordinal", "domain": ["T7","T7−1","T7−5","T7−6","T7−7"], "range": [3,1,2.5,1,1]}, "legend": null}
      }},
     {"data": {"values": [{}]}, "mark": {"type": "text", "text": "L1", "fontSize": 27, "align": "left", "baseline": "alphabetic", "color": "#000"},
      "encoding": {
       "x": {"datum": 5.4, "type": "quantitative", "axis": {"orient": "top", "values": [0,10,20,30,40,50,60,70,80,90], "labels": false, "title": null}},
       "y": {"datum": 0.589, "type": "quantitative", "axis": {"orient": "right", "values": [0.6,0.7,0.8,0.9,1.0], "labels": false, "title": null}}
      }}
    ]},
   {"width": 358, "height": 291,
    "resolve": {"axis": {"x": "independent", "y": "independent"}},
    "layer": [
     {"transform": [{"filter": "datum.p === 'b2'"}], "mark": {"type": "line", "strokeCap": "butt"},
      "encoding": {
       "x": {"field": "x", "type": "quantitative", "scale": {"domain": [0, 90], "nice": false, "zero": false}, "axis": {"orient": "bottom", "values": [0,10,20,30,40,50,60,70,80,90], "labels": false, "title": null}},
       "y": {"field": "y", "type": "quantitative", "scale": {"domain": [0.55, 1.05], "nice": false, "zero": false}, "axis": {"orient": "left", "values": [0.6,0.7,0.8,0.9,1.0], "format": ".1f", "title": "sigma assim / sigma free"}},
       "color": {"field": "s", "type": "nominal", "scale": {"domain": ["T7","T7−1","T7−5","T7−6","T7−7"], "range": ["#000","#222","#000","#000","#555"]}, "legend": null},
       "strokeDash": {"field": "s", "type": "nominal", "scale": {"domain": ["T7","T7−1","T7−5","T7−6","T7−7"], "range": [[1,0],[2,3],[9,6],[1,0],[18,8,5,8]]}, "legend": null},
       "strokeWidth": {"field": "s", "type": "nominal", "scale": {"type": "ordinal", "domain": ["T7","T7−1","T7−5","T7−6","T7−7"], "range": [3,1,2.5,1,1]}, "legend": null}
      }},
     {"data": {"values": [{}]}, "mark": {"type": "text", "text": "L2", "fontSize": 27, "align": "left", "baseline": "alphabetic", "color": "#000"},
      "encoding": {
       "x": {"datum": 5.4, "type": "quantitative", "axis": {"orient": "top", "values": [0,10,20,30,40,50,60,70,80,90], "labels": false, "title": null}},
       "y": {"datum": 0.589, "type": "quantitative", "axis": {"orient": "right", "values": [0.6,0.7,0.8,0.9,1.0], "labels": false, "title": null}}
      }}
    ]},
   {"width": 358, "height": 291,
    "resolve": {"axis": {"x": "independent", "y": "independent"}},
    "layer": [
     {"transform": [{"filter": "datum.p === 'b3'"}], "mark": {"type": "line", "strokeCap": "butt"},
      "encoding": {
       "x": {"field": "x", "type": "quantitative", "scale": {"domain": [0, 90], "nice": false, "zero": false}, "axis": {"orient": "bottom", "values": [0,10,20,30,40,50,60,70,80,90], "title": "days from 1st February", "titleFontSize": 21}},
       "y": {"field": "y", "type": "quantitative", "scale": {"domain": [0.55, 1.05], "nice": false, "zero": false}, "axis": {"orient": "left", "values": [0.6,0.7,0.8,0.9,1.0], "format": ".1f", "title": null}},
       "color": {"field": "s", "type": "nominal", "scale": {"domain": ["T7","T7−1","T7−5","T7−6","T7−7"], "range": ["#000","#222","#000","#000","#555"]}},
       "strokeDash": {"field": "s", "type": "nominal", "scale": {"domain": ["T7","T7−1","T7−5","T7−6","T7−7"], "range": [[1,0],[2,3],[9,6],[1,0],[18,8,5,8]]}, "legend": {"orient": "none", "legendX": 243, "legendY": 165, "title": null, "labelAlign": "left", "labelFontSize": 16, "columns": 1, "gridAlign": "all"}},
       "strokeWidth": {"field": "s", "type": "nominal", "scale": {"type": "ordinal", "domain": ["T7","T7−1","T7−5","T7−6","T7−7"], "range": [3,1,2.5,1,1]}}
      }},
     {"data": {"values": [{}]}, "mark": {"type": "text", "text": "L3", "fontSize": 27, "align": "left", "baseline": "alphabetic", "color": "#000"},
      "encoding": {
       "x": {"datum": 5.4, "type": "quantitative", "axis": {"orient": "top", "values": [0,10,20,30,40,50,60,70,80,90], "labels": false, "title": null}},
       "y": {"datum": 0.589, "type": "quantitative", "axis": {"orient": "right", "values": [0.6,0.7,0.8,0.9,1.0], "labels": false, "title": null}}
      }}
    ]}
  ]}
]
}
